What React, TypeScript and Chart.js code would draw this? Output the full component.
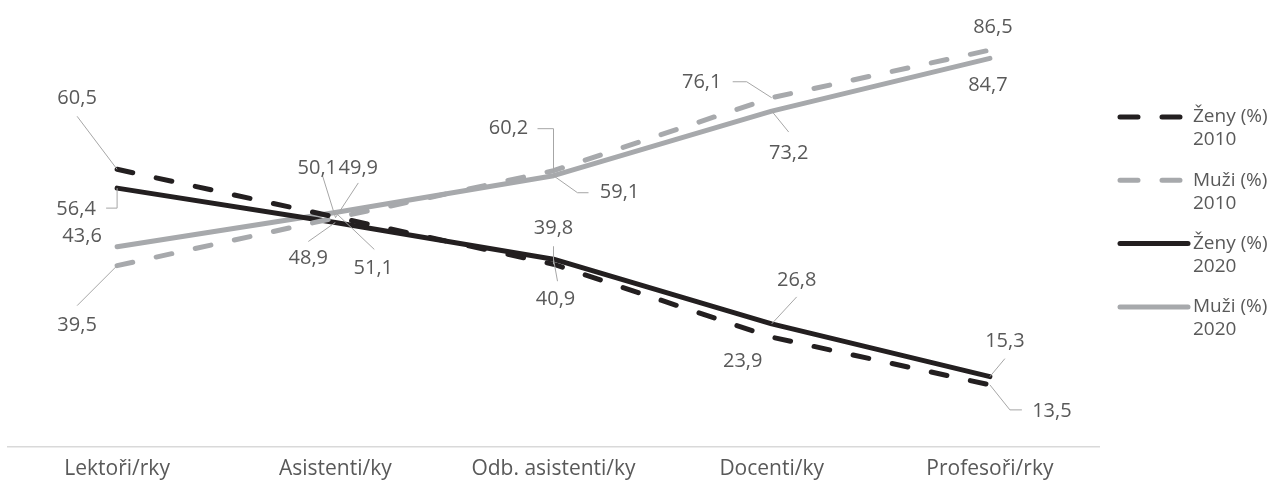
import React, { useEffect, useRef } from 'react';
import { Chart, registerables } from 'chart.js';

Chart.register(...registerables);

const categories = ['Lektoři/rky', 'Asistenti/ky', 'Odb. asistenti/ky', 'Docenti/ky', 'Profesoři/rky'];
const zeny2010 = [60.5, 50.1, 39.8, 23.9, 13.5];
const muzi2010 = [39.5, 49.9, 60.2, 76.1, 86.5];
const zeny2020 = [56.4, 48.9, 40.9, 26.8, 15.3];
const muzi2020 = [43.6, 51.1, 59.1, 73.2, 84.7];
const seriesNames = [
  ['Ženy (%)', '2010'],
  ['Muži (%)', '2010'],
  ['Ženy (%)', '2020'],
  ['Muži (%)', '2020'],
];

const BLACK = '#231f20';
const GRAY = '#a7a9ac';
const TEXT = '#595959';
const LEADER = '#a6a6a6';
const FONT = '"Open Sans", sans-serif';

type LabelPos = { dx: number; dy: number; leader?: number[][] };

// label placement (style), relative to each point
const labelLayout: LabelPos[][] = [
  [
    { dx: -40, dy: -71, leader: [[-40, -53]] },
    { dx: -18, dy: -49, leader: [[-13, -42]] },
    { dx: 0, dy: -36, leader: [[0, -18]] },
    { dx: -29, dy: 24 },
    { dx: 62, dy: 26, leader: [[20, 25], [32, 25]] },
  ],
  [
    { dx: -40, dy: 60, leader: [[-40, 40]] },
    { dx: 23, dy: -50, leader: [[23, -35]] },
    { dx: -45, dy: -42, leader: [[0, -42], [-16, -42]] },
    { dx: -70, dy: -15, leader: [[-25, -16], [-39, -16]] },
    { dx: 3, dy: -23 },
  ],
  [
    { dx: -41, dy: 21, leader: [[0, 20], [-11, 20]] },
    { dx: -27, dy: 36, leader: [[-27, 19]] },
    { dx: 2, dy: 40, leader: [[4, 22]] },
    { dx: 25, dy: -44, leader: [[25, -27]] },
    { dx: 15, dy: -35, leader: [[15, -18]] },
  ],
  [
    { dx: -35, dy: -11 },
    { dx: 38, dy: 56, leader: [[39, 37]] },
    { dx: 66, dy: 17, leader: [[24, 17], [35, 17]] },
    { dx: 17, dy: 42, leader: [[17, 21]] },
    { dx: -2, dy: 27 },
  ],
];

const fmt = (v: number) => v.toFixed(1).replace('.', ',');

const labelPlugin = {
  id: 'leaderLabels',
  afterDatasetsDraw(chart: any) {
    const ctx = chart.ctx;
    ctx.save();
    chart.data.datasets.forEach((ds: any, i: number) => {
      const meta = chart.getDatasetMeta(i);
      meta.data.forEach((pt: any, j: number) => {
        const L = labelLayout[i][j];
        const x = pt.x;
        const y = pt.y;
        if (L.leader) {
          ctx.beginPath();
          ctx.setLineDash([]);
          ctx.strokeStyle = LEADER;
          ctx.lineWidth = 1;
          ctx.moveTo(x, y);
          L.leader.forEach(([lx, ly]) => ctx.lineTo(x + lx, y + ly));
          ctx.stroke();
        }
        ctx.fillStyle = TEXT;
        ctx.font = `20px ${FONT}`;
        ctx.textAlign = 'center';
        ctx.textBaseline = 'middle';
        ctx.fillText(fmt(ds.data[j]), x + L.dx, y + L.dy);
      });
    });
    ctx.restore();
  },
};

const legendPlugin = {
  id: 'customLegend',
  afterDraw(chart: any) {
    const ctx = chart.ctx;
    ctx.save();
    const startY = 117;
    const step = 63.3;
    chart.data.datasets.forEach((ds: any, i: number) => {
      const y = startY + i * step;
      ctx.beginPath();
      ctx.strokeStyle = ds.borderColor;
      ctx.lineWidth = 5;
      ctx.lineCap = 'round';
      ctx.setLineDash(ds.borderDash && ds.borderDash.length ? [18, 24] : []);
      ctx.moveTo(1120, y);
      ctx.lineTo(1188, y);
      ctx.stroke();
      ctx.setLineDash([]);
      ctx.fillStyle = TEXT;
      ctx.font = `19px ${FONT}`;
      ctx.textAlign = 'left';
      ctx.textBaseline = 'middle';
      ctx.fillText(seriesNames[i][0], 1193, y);
      ctx.fillText(seriesNames[i][1], 1193, y + 23);
    });
    ctx.restore();
  },
};

export default function App() {
  const ref = useRef<HTMLCanvasElement | null>(null);
  useEffect(() => {
    document.body.style.margin = '0';
    if (!ref.current) return;
    const mk = (label: string, data: number[], color: string, dashed: boolean) => ({
      label,
      data,
      borderColor: color,
      backgroundColor: color,
      borderWidth: 5,
      borderDash: dashed ? [16, 24] : [],
      borderCapStyle: 'round' as const,
      borderJoinStyle: 'round' as const,
      pointRadius: 0,
      tension: 0,
      fill: false,
    });
    const chart = new Chart(ref.current, {
      type: 'line',
      data: {
        labels: categories,
        datasets: [
          mk(seriesNames[0].join(' '), zeny2010, BLACK, true),
          mk(seriesNames[1].join(' '), muzi2010, GRAY, true),
          mk(seriesNames[2].join(' '), zeny2020, BLACK, false),
          mk(seriesNames[3].join(' '), muzi2020, GRAY, false),
        ],
      },
      options: {
        responsive: false,
        animation: false,
        layout: { padding: { top: 34, left: 8, right: 174, bottom: -3 } },
        plugins: {
          legend: { display: false },
          tooltip: { enabled: false },
        },
        scales: {
          x: {
            offset: true,
            grid: { display: false, drawTicks: false },
            border: { display: true, color: '#d9d9d9', width: 1.5 },
            ticks: { color: TEXT, font: { family: FONT, size: 21 }, padding: 10, maxRotation: 0 },
          },
          y: {
            display: false,
            min: 0,
            max: 90,
          },
        },
      },
      plugins: [labelPlugin, legendPlugin],
    });
    return () => chart.destroy();
  }, []);
  return (
    <div style={{ width: 1273, height: 489 }}>
      <canvas ref={ref} width={1273} height={489} />
    </div>
  );
}
